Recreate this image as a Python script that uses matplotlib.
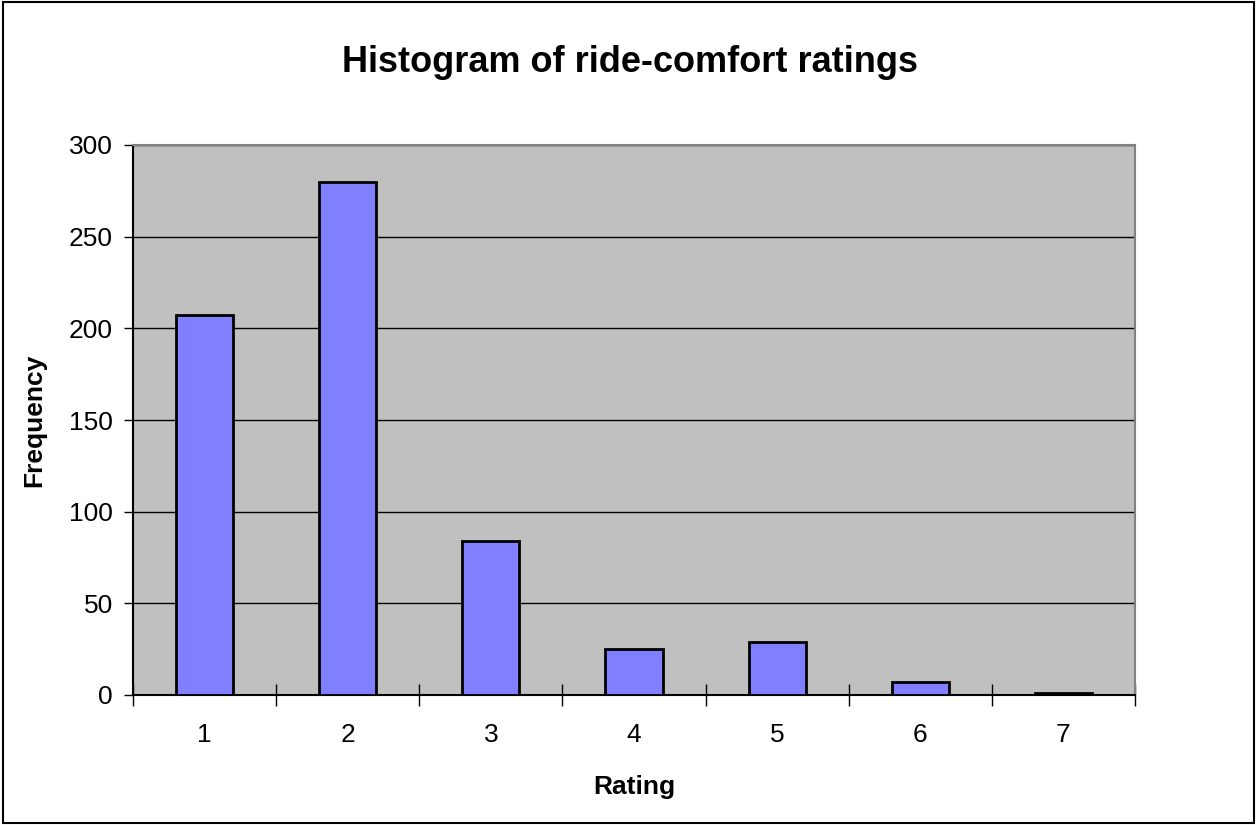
import matplotlib
matplotlib.use("Agg")
import matplotlib.pyplot as plt
import numpy as np

# ride-comfort rating histogram
ratings = [1, 2, 3, 4, 5, 6, 7]
freqs = [207, 280, 84, 25, 29, 7, 1]
yticks = [0, 50, 100, 150, 200, 250, 300]

plt.rcParams['font.family'] = ['Liberation Sans', 'DejaVu Sans']

fig = plt.figure(figsize=(12.57, 8.25), dpi=100)
ax = fig.add_axes([133/1257, 1 - 695/825, (1135-133)/1257, (695-145)/825])

x = np.arange(len(ratings))
ax.bar(x, freqs, width=0.4, color='#8080ff', edgecolor='black', linewidth=2, zorder=3)

ax.set_facecolor('#c0c0c0')
ax.set_xlim(-0.5, len(ratings) - 0.5)
ax.set_ylim(0, 300)
ax.set_yticks(yticks)
ax.yaxis.grid(True, color='black', linewidth=1, zorder=1)

# ticks between categories, labels centered on bars
ax.set_xticks(np.arange(-0.5, len(ratings)), minor=False)
ax.set_xticklabels([])
ax.set_xticks(x, minor=True)
ax.set_xticklabels([str(r) for r in ratings], minor=True)
ax.tick_params(axis='x', which='major', direction='inout', length=16, width=1, color='black')
ax.tick_params(axis='x', which='minor', length=0, pad=20, labelsize=19)
ax.tick_params(axis='y', direction='out', length=6.5, width=1, labelsize=19, pad=8)

ax.spines['left'].set_color('black')
ax.spines['bottom'].set_color('black')
ax.spines['top'].set_color('#808080')
ax.spines['right'].set_color('#808080')
for s in ax.spines.values():
    s.set_linewidth(1.5)

ax.set_xlabel('Rating', fontsize=19, fontweight='bold', labelpad=20)
ax.set_ylabel('Frequency', fontsize=19, fontweight='bold', labelpad=16)
fig.text(630/1257, 1 - 63/825, 'Histogram of ride-comfort ratings', ha='center', va='center',
         fontsize=26, fontweight='bold')

# outer frame
fig.patches.append(plt.Rectangle((0.002, 0.002), 0.996, 0.996, transform=fig.transFigure,
                                 fill=False, edgecolor='black', linewidth=1.5))

fig.savefig('out.png', dpi=100)
